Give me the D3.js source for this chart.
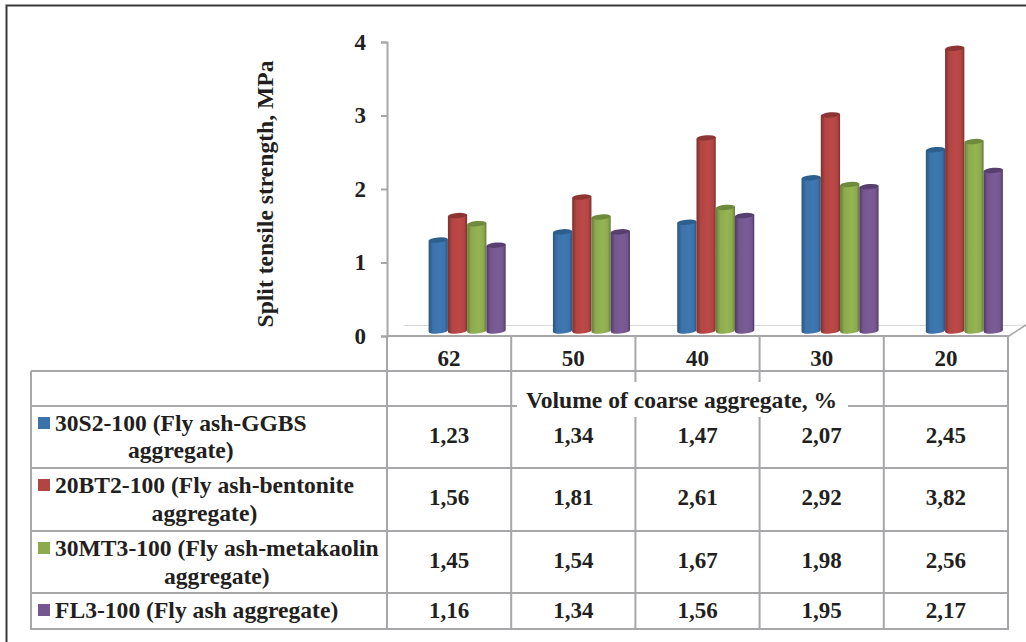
<!DOCTYPE html>
<html><head><meta charset="utf-8">
<script src="https://cdn.jsdelivr.net/npm/d3@7"></script>
<style>
html,body{margin:0;padding:0;background:#fff;overflow:hidden}
svg{display:block}
text{font-family:"Liberation Serif","Times New Roman",serif;font-weight:700;fill:#231f20}
</style></head><body>
<svg id="c" width="1026" height="642"></svg>
<script>
const categories = ["62","50","40","30","20"];
const s30S2 = [1.23,1.34,1.47,2.07,2.45];
const s20BT2 = [1.56,1.81,2.61,2.92,3.82];
const s30MT3 = [1.45,1.54,1.67,1.98,2.56];
const sFL3 = [1.16,1.34,1.56,1.95,2.17];
const seriesValues = [s30S2,s20BT2,s30MT3,sFL3];
const seriesLine1 = ["30S2-100 (Fly ash-GGBS","20BT2-100 (Fly ash-bentonite","30MT3-100 (Fly ash-metakaolin","FL3-100 (Fly ash aggregate)"];
const seriesLine2 = ["aggregate)","aggregate)","aggregate)",""];
const colors = ["#3b72a9","#b24543","#8dab4e","#75578f"];
const darks = ["#2a5680","#7f302f","#657c37","#503b66"];
const topsC = ["#2d5f8e","#8c3533","#6f8a3c","#573f70"];
const yTicks = [0,1,2,3,4];
const yTitle = "Split tensile strength, MPa";
const xTitle = "Volume of coarse aggregate, %";

const svg = d3.select("#c");
const grey = "#a7a7a9";
const fmt = d3.formatLocale({decimal:",",thousands:".",grouping:[3],currency:["",""]}).format(".2f");
const labelSize = 23, textSize = 23.6;

// outer frame
svg.append("path").attr("d","M6.5,642V5.5H1026").attr("fill","none").attr("stroke","#3a3a3c").attr("stroke-width",2);

// scales
const tableX = d3.scaleBand().domain(categories).range([387,1008]);
const yAxisScale = d3.scaleLinear().domain([0,4]).range([336,42]);
const yBar = d3.scaleLinear().domain([0,4]).range([331,35]);
const xGroup = d3.scaleBand().domain(categories).range([405,1026.5]).paddingInner(0.38).paddingOuter(0.19);
const xSeries = d3.scaleBand().domain(d3.range(4)).range([0,xGroup.bandwidth()]);

// gradients
const defs = svg.append("defs");
colors.forEach((c,i)=>{
  const g = defs.append("linearGradient").attr("id","g"+i).attr("x1",0).attr("x2",1).attr("y1",0).attr("y2",0);
  [[0,darks[i]],[0.22,c],[0.6,d3.color(c).brighter(0.15)],[0.85,c],[1,darks[i]]].forEach(s=>
    g.append("stop").attr("offset",s[0]).attr("stop-color",s[1]));
});

// floor
svg.append("path").attr("d","M404,325.5H1010L1026,325").attr("fill","none").attr("stroke","#d9d9d9").attr("stroke-width",1);
svg.append("path").attr("d","M1009,336L1026,325").attr("fill","none").attr("stroke",grey).attr("stroke-width",1.5);

// table rules
const rowLines = [371,406,468,531,593,629];
const hl = svg.append("g").attr("stroke",grey).attr("stroke-width",2);
hl.append("line").attr("x1",387).attr("x2",1009).attr("y1",336).attr("y2",336);
rowLines.forEach(y=>hl.append("line").attr("x1",31).attr("x2",1009).attr("y1",y).attr("y2",y));
hl.append("line").attr("x1",31).attr("x2",31).attr("y1",371).attr("y2",630);
categories.forEach(c=>hl.append("line").attr("x1",tableX(c)).attr("x2",tableX(c)).attr("y1",336).attr("y2",630));
hl.append("line").attr("x1",1008).attr("x2",1008).attr("y1",336).attr("y2",630);

// axis
const axis = svg.append("g").attr("transform","translate(387,0)")
  .call(d3.axisLeft(yAxisScale).tickValues(yTicks).tickFormat(d3.format("d")).tickSize(6).tickPadding(15));
axis.selectAll("path,line").attr("stroke",grey).attr("stroke-width",2);
axis.selectAll("text").attr("font-size",labelSize).attr("dy","0.32em").style("font-family",'"Liberation Serif",serif').style("font-weight",700).attr("fill","#231f20");

// cylinders
const rx = xSeries.bandwidth()/2, ry = 2.6, tilt = 0.8;
seriesValues.forEach((vals,i)=>{
  const g = svg.append("g");
  g.selectAll("path.b").data(vals).join("path").attr("class","b")
    .attr("fill",`url(#g${i})`)
    .attr("d",(v,k)=>{
      const x = xGroup(categories[k])+xSeries(i), w = xSeries.bandwidth(), t = yBar(v), b = yBar(0);
      return `M${x},${t+tilt}L${x},${b+tilt}A${rx},${ry} -5 0 0 ${x+w},${b-tilt}L${x+w},${t-tilt}Z`;
    });
  g.selectAll("ellipse").data(vals).join("ellipse")
    .attr("fill",topsC[i])
    .attr("rx",rx).attr("ry",ry)
    .attr("transform",(v,k)=>`translate(${xGroup(categories[k])+xSeries(i)+rx},${yBar(v)}) rotate(-5)`);
});

// category labels
svg.append("g").selectAll("text").data(categories).join("text")
  .attr("x",c=>tableX(c)+tableX.bandwidth()/2).attr("y",366).attr("text-anchor","middle").attr("font-size",labelSize).text(c=>c);

// x title with mask
svg.append("rect").attr("x",517).attr("y",382).attr("width",331).attr("height",35).attr("fill","#fff");
svg.append("text").attr("x",681.5).attr("y",408).attr("text-anchor","middle").attr("font-size",textSize).text(xTitle);

// y title
svg.append("text").attr("transform","translate(273,194) rotate(-90)").attr("text-anchor","middle").attr("font-size",textSize).text(yTitle);

// legend + values
const line1Y = [431,493,556,618], line2Y = [458,521,584,null], valY = [443,505,568,618], swY = [417,479,542,604];
seriesValues.forEach((vals,i)=>{
  svg.append("rect").attr("x",38).attr("y",swY[i]).attr("width",12).attr("height",12).attr("fill",colors[i]);
  const t = svg.append("text").attr("x",55).attr("y",line1Y[i]).attr("font-size",textSize).text(seriesLine1[i]);
  if(seriesLine2[i]){
    const w = t.node().getComputedTextLength();
    svg.append("text").attr("x",55+w/2).attr("y",line2Y[i]).attr("text-anchor","middle").attr("font-size",textSize).text(seriesLine2[i]);
  }
  svg.append("g").selectAll("text").data(vals).join("text")
    .attr("x",(v,k)=>tableX(categories[k])+tableX.bandwidth()/2).attr("y",valY[i])
    .attr("text-anchor","middle").attr("font-size",labelSize).text(v=>fmt(v));
});
</script>
</body></html>
